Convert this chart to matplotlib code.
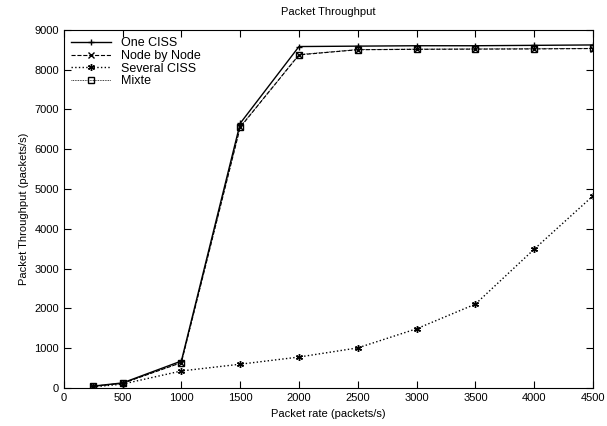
import numpy as np
import matplotlib.pyplot as plt

rate = [250, 500, 1000, 1500, 2000, 2500, 3000, 3500, 4000, 4500]
one_ciss = [50, 130, 680, 6650, 8580, 8590, 8600, 8600, 8610, 8620]
node_by_node = [45, 120, 640, 6550, 8370, 8500, 8510, 8515, 8520, 8530]
several_ciss = [30, 100, 430, 600, 780, 1010, 1490, 2110, 3490, 4830]
mixte = [45, 120, 640, 6560, 8380, 8505, 8515, 8520, 8525, 8535]

plt.rcParams['font.family'] = ['Liberation Sans', 'DejaVu Sans']
plt.rcParams['font.size'] = 8

fig = plt.figure(figsize=(6.07, 4.26), dpi=100)
ax = fig.add_axes([0.105, 0.089, 0.872, 0.841])

ax.plot(rate, one_ciss, 'k-', marker='+', ms=5, lw=1, label="One CISS")
ax.plot(rate, node_by_node, 'k--', marker='x', ms=4, lw=0.8, label="Node by Node")
ax.plot(rate, several_ciss, 'k:', marker=(6, 2, 0), ms=5, lw=1, label="Several CISS")
ax.plot(rate, mixte, color='k', ls=(0, (1, 1)), lw=0.6, marker='s', ms=4, mfc='none', label="Mixte")

ax.set_xlim(0, 4500)
ax.set_ylim(0, 9000)
ax.set_xticks(np.arange(0, 4501, 500))
ax.set_yticks(np.arange(0, 9001, 1000))
ax.tick_params(direction='in', top=True, right=True, length=5)
ax.set_xlabel("Packet rate (packets/s)")
ax.set_ylabel("Packet Throughput (packets/s)")
ax.set_title("Packet Throughput", fontsize=8, pad=11)
ax.legend(loc='upper left', frameon=False, handlelength=3.2, labelspacing=0.05,
          borderaxespad=0.2, fontsize=9)

plt.savefig("out.png")
